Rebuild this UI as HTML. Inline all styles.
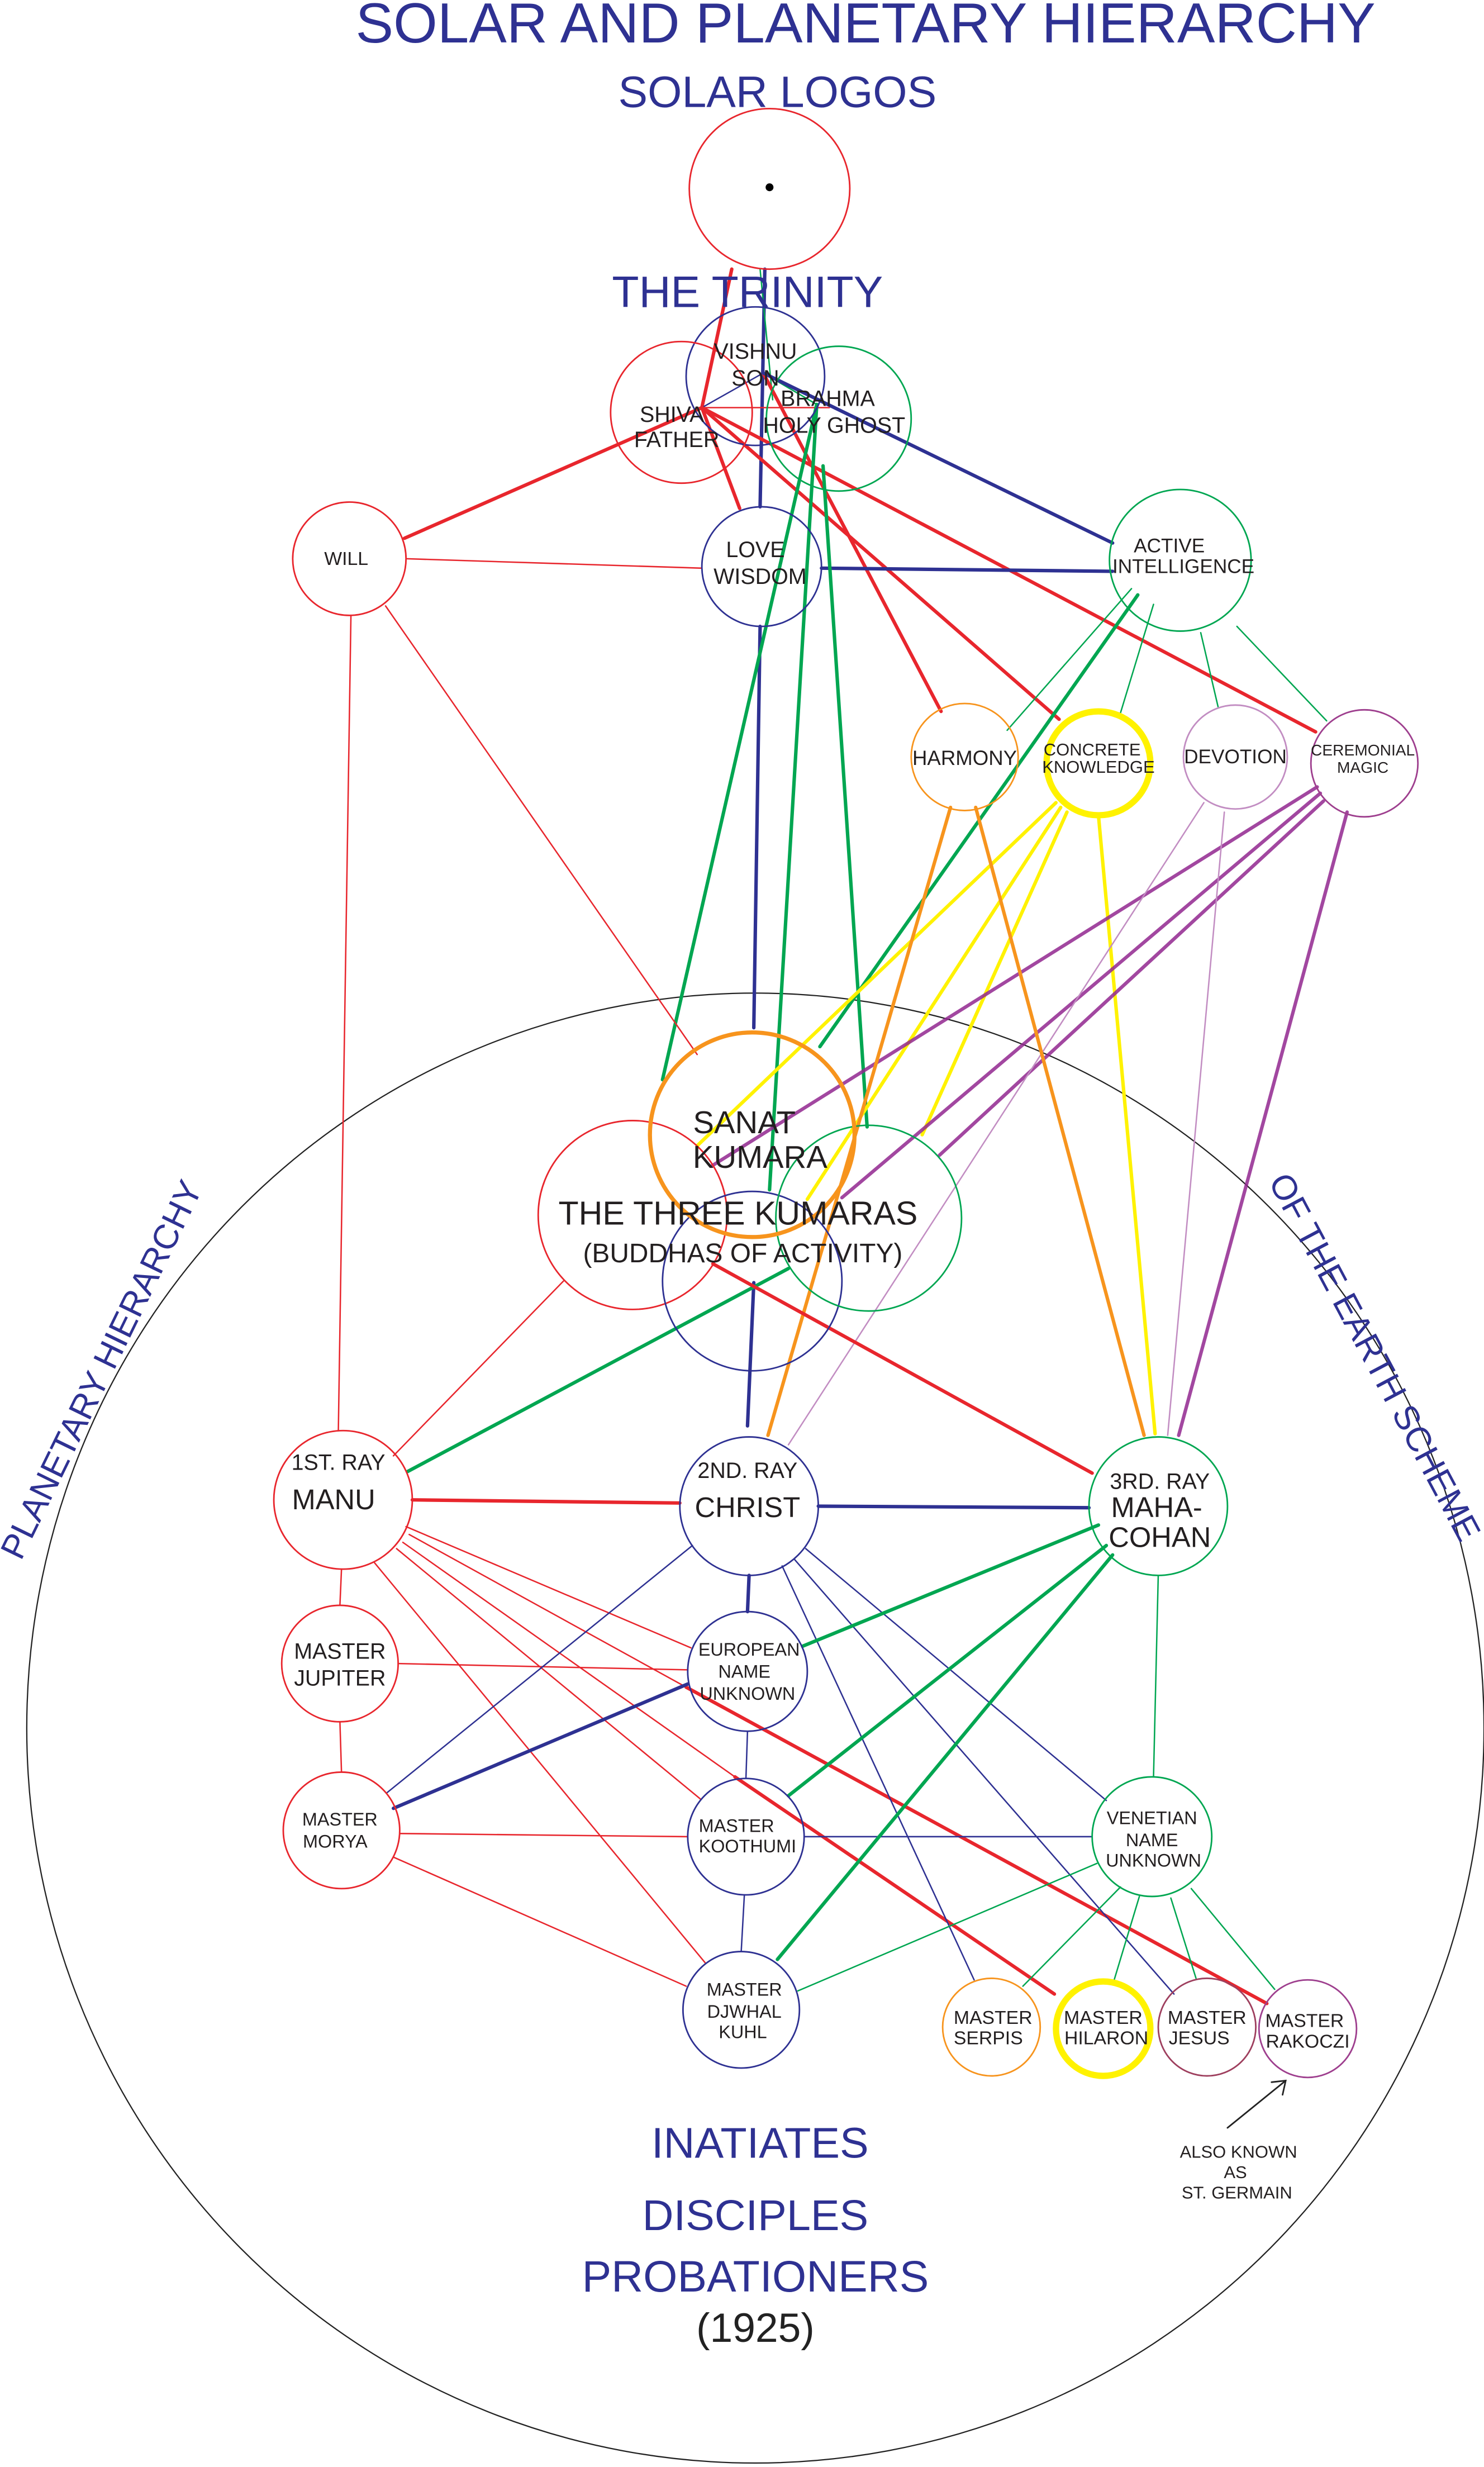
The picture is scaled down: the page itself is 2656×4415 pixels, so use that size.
<!DOCTYPE html>
<html><head><meta charset="utf-8"><style>
html,body{margin:0;padding:0;background:#fff;}
svg{display:block;}
text{font-family:"Liberation Sans",sans-serif;}
</style></head><body>
<svg width="2656" height="4415" viewBox="0 0 943 1567.5" xmlns="http://www.w3.org/2000/svg">
<rect width="943" height="1568" fill="#fff"/>
<!-- big circle -->
<ellipse cx="480" cy="1098" rx="463" ry="467" fill="none" stroke="#222" stroke-width="0.8"/>

<g fill="none" stroke-linecap="round">
<!-- top thin links -->
<line x1="465" y1="171" x2="446" y2="259" stroke="#e8262d" stroke-width="2.2"/>
<line x1="486" y1="171" x2="483" y2="322" stroke="#2e3192" stroke-width="2.2"/>
<line x1="483" y1="171" x2="491" y2="254" stroke="#00a651" stroke-width="0.9"/>
<line x1="446" y1="259" x2="485" y2="237" stroke="#2e3192" stroke-width="0.9"/>
<line x1="446" y1="259" x2="527" y2="259" stroke="#e8262d" stroke-width="0.9"/>
<line x1="485" y1="237" x2="519" y2="257" stroke="#00a651" stroke-width="0.9"/>
<!-- red from shiva -->
<line x1="446" y1="259" x2="257" y2="342" stroke="#e8262d" stroke-width="2.2"/>
<line x1="446" y1="259" x2="470" y2="323" stroke="#e8262d" stroke-width="2.2"/>
<line x1="485" y1="237" x2="598" y2="452" stroke="#e8262d" stroke-width="2.2"/>
<line x1="446" y1="259" x2="673" y2="457" stroke="#e8262d" stroke-width="2.2"/>
<line x1="446" y1="259" x2="836" y2="465" stroke="#e8262d" stroke-width="2.2"/>
<!-- blue -->
<line x1="485" y1="237" x2="707" y2="345" stroke="#2e3192" stroke-width="2.2"/>
<line x1="522" y1="361" x2="707" y2="363" stroke="#2e3192" stroke-width="2.2"/>
<line x1="483" y1="398" x2="479" y2="653" stroke="#2e3192" stroke-width="2.2"/>
<line x1="479" y1="815" x2="475" y2="906" stroke="#2e3192" stroke-width="2.2"/>
<!-- greens from brahma -->
<line x1="519" y1="257" x2="421" y2="686" stroke="#00a651" stroke-width="2.2"/>
<line x1="519" y1="257" x2="489" y2="756" stroke="#00a651" stroke-width="2.2"/>
<line x1="523" y1="296" x2="551" y2="716" stroke="#00a651" stroke-width="2.2"/>
<line x1="723" y1="378" x2="521" y2="665" stroke="#00a651" stroke-width="2.2"/>
<!-- thin greens from active -->
<line x1="719" y1="374" x2="640" y2="464" stroke="#00a651" stroke-width="0.9"/>
<line x1="733" y1="384" x2="712" y2="453" stroke="#00a651" stroke-width="0.9"/>
<line x1="763" y1="402" x2="774" y2="449" stroke="#00a651" stroke-width="0.9"/>
<line x1="786" y1="398" x2="843" y2="458" stroke="#00a651" stroke-width="0.9"/>
<!-- will -->
<line x1="258" y1="355" x2="446" y2="361" stroke="#e8262d" stroke-width="0.9"/>
<line x1="223" y1="391" x2="215" y2="909" stroke="#e8262d" stroke-width="0.9"/>
<line x1="245" y1="385" x2="443" y2="670" stroke="#e8262d" stroke-width="0.9"/>
<!-- yellow -->
<line x1="671" y1="510" x2="443" y2="728" stroke="#fff200" stroke-width="2.2"/>
<line x1="674" y1="513" x2="513" y2="762" stroke="#fff200" stroke-width="2.2"/>
<line x1="678" y1="516" x2="586" y2="721" stroke="#fff200" stroke-width="2.2"/>
<line x1="698" y1="518" x2="734" y2="911" stroke="#fff200" stroke-width="2.2"/>
<!-- purple -->
<line x1="837" y1="500" x2="452" y2="741" stroke="#92278f" stroke-width="2.2" stroke-opacity="0.85"/>
<line x1="839" y1="504" x2="535" y2="761" stroke="#92278f" stroke-width="2.2" stroke-opacity="0.85"/>
<line x1="841" y1="509" x2="597" y2="734" stroke="#92278f" stroke-width="2.2" stroke-opacity="0.85"/>
<line x1="856" y1="516" x2="749" y2="912" stroke="#92278f" stroke-width="2.2" stroke-opacity="0.85"/>
<!-- devotion pink -->
<line x1="765" y1="510" x2="501" y2="918" stroke="#c28dc2" stroke-width="0.9"/>
<line x1="778" y1="516" x2="742" y2="912" stroke="#c28dc2" stroke-width="0.9"/>
<!-- orange -->
<line x1="604" y1="513" x2="488" y2="912" stroke="#f7941d" stroke-width="2.2"/>
<line x1="620" y1="513" x2="727" y2="912" stroke="#f7941d" stroke-width="2.2"/>
<!-- kumaras links -->
<line x1="501" y1="806" x2="259" y2="935" stroke="#00a651" stroke-width="2.2"/>
<line x1="453" y1="803" x2="694" y2="936" stroke="#e8262d" stroke-width="2.2"/>
<line x1="358" y1="814" x2="250" y2="925" stroke="#e8262d" stroke-width="0.9"/>
<!-- rays -->
<line x1="262" y1="953" x2="432" y2="955" stroke="#e8262d" stroke-width="2.2"/>
<line x1="520" y1="957" x2="692" y2="958" stroke="#2e3192" stroke-width="2.2"/>
<line x1="476" y1="1001" x2="475" y2="1024" stroke="#2e3192" stroke-width="2.2"/>
<line x1="217" y1="997" x2="216" y2="1020" stroke="#e8262d" stroke-width="0.9"/>
<line x1="216" y1="1094" x2="217" y2="1126" stroke="#e8262d" stroke-width="0.9"/>
<!-- manu fan -->
<line x1="258" y1="970" x2="439" y2="1047" stroke="#e8262d" stroke-width="0.9"/>
<line x1="260" y1="975" x2="436" y2="1072" stroke="#e8262d" stroke-width="0.9"/>
<line x1="436" y1="1072" x2="805" y2="1273" stroke="#e8262d" stroke-width="2.2"/>
<line x1="256" y1="980" x2="467" y2="1129" stroke="#e8262d" stroke-width="0.9"/>
<line x1="467" y1="1129" x2="670" y2="1267" stroke="#e8262d" stroke-width="2.2"/>
<line x1="252" y1="984" x2="445" y2="1143" stroke="#e8262d" stroke-width="0.9"/>
<line x1="238" y1="993" x2="448" y2="1247" stroke="#e8262d" stroke-width="0.9"/>
<line x1="253" y1="1057" x2="437" y2="1061" stroke="#e8262d" stroke-width="0.9"/>
<line x1="254" y1="1165" x2="437" y2="1167" stroke="#e8262d" stroke-width="0.9"/>
<line x1="250" y1="1180" x2="436" y2="1262" stroke="#e8262d" stroke-width="0.9"/>
<!-- blue lower -->
<line x1="440" y1="982" x2="246" y2="1139" stroke="#2e3192" stroke-width="0.9"/>
<line x1="437" y1="1070" x2="250" y2="1149" stroke="#2e3192" stroke-width="2.2"/>
<line x1="475" y1="1100" x2="474" y2="1130" stroke="#2e3192" stroke-width="0.9"/>
<line x1="511" y1="1167" x2="694" y2="1167" stroke="#2e3192" stroke-width="0.9"/>
<line x1="473" y1="1204" x2="471" y2="1240" stroke="#2e3192" stroke-width="0.9"/>
<line x1="497" y1="995" x2="619" y2="1258" stroke="#2e3192" stroke-width="0.9"/>
<line x1="505" y1="991" x2="746" y2="1267" stroke="#2e3192" stroke-width="0.9"/>
<line x1="512" y1="984" x2="703" y2="1144" stroke="#2e3192" stroke-width="0.9"/>
<!-- green lower -->
<line x1="698" y1="969" x2="510" y2="1046" stroke="#00a651" stroke-width="2.2"/>
<line x1="703" y1="982" x2="501" y2="1141" stroke="#00a651" stroke-width="2.2"/>
<line x1="707" y1="988" x2="494" y2="1245" stroke="#00a651" stroke-width="2.2"/>
<line x1="736" y1="1001" x2="733" y2="1129" stroke="#00a651" stroke-width="0.9"/>
<line x1="697" y1="1184" x2="507" y2="1265" stroke="#00a651" stroke-width="0.9"/>
<line x1="712" y1="1199" x2="650" y2="1262" stroke="#00a651" stroke-width="0.9"/>
<line x1="724" y1="1205" x2="708" y2="1258" stroke="#00a651" stroke-width="0.9"/>
<line x1="744" y1="1206" x2="760" y2="1257" stroke="#00a651" stroke-width="0.9"/>
<line x1="757" y1="1200" x2="810" y2="1264" stroke="#00a651" stroke-width="0.9"/>
<!-- arrow -->
<line x1="780" y1="1352" x2="817" y2="1322" stroke="#222" stroke-width="1"/>
<polyline points="808,1323 817,1322 815,1331" stroke="#222" stroke-width="1"/>
</g>

<!-- circles -->
<g fill="none">
<circle cx="489" cy="120" r="51" stroke="#e8262d" stroke-width="1"/>
<circle cx="480" cy="239" r="44" stroke="#2e3192" stroke-width="1"/>
<circle cx="433" cy="262" r="45" stroke="#e8262d" stroke-width="1"/>
<circle cx="533" cy="266" r="46" stroke="#00a651" stroke-width="1"/>
<circle cx="222" cy="355" r="36" stroke="#e8262d" stroke-width="1"/>
<circle cx="484" cy="360" r="38" stroke="#2e3192" stroke-width="1"/>
<circle cx="750" cy="356" r="45" stroke="#00a651" stroke-width="1"/>
<circle cx="613" cy="481" r="34" stroke="#f7941d" stroke-width="1"/>
<circle cx="698" cy="485" r="33" stroke="#fff200" stroke-width="4"/>
<circle cx="785" cy="481" r="33" stroke="#c28dc2" stroke-width="1"/>
<circle cx="867" cy="485" r="34" stroke="#9e3f8e" stroke-width="1"/>
<circle cx="402" cy="772" r="60" stroke="#e8262d" stroke-width="1"/>
<circle cx="478" cy="814" r="57" stroke="#2e3192" stroke-width="1"/>
<circle cx="552" cy="774" r="59" stroke="#00a651" stroke-width="1"/>
<circle cx="478" cy="721" r="65" stroke="#f7941d" stroke-width="2.6"/>
<circle cx="218" cy="953" r="44" stroke="#e8262d" stroke-width="1"/>
<circle cx="476" cy="957" r="44" stroke="#2e3192" stroke-width="1"/>
<circle cx="736" cy="957" r="44" stroke="#00a651" stroke-width="1"/>
<circle cx="216" cy="1057" r="37" stroke="#e8262d" stroke-width="1"/>
<circle cx="475" cy="1062" r="38" stroke="#2e3192" stroke-width="1"/>
<circle cx="217" cy="1163" r="37" stroke="#e8262d" stroke-width="1"/>
<circle cx="474" cy="1167" r="37" stroke="#2e3192" stroke-width="1"/>
<circle cx="732" cy="1167" r="38" stroke="#00a651" stroke-width="1"/>
<circle cx="471" cy="1277" r="37" stroke="#2e3192" stroke-width="1"/>
<circle cx="630" cy="1288" r="31" stroke="#f7941d" stroke-width="1"/>
<circle cx="701" cy="1289" r="30" stroke="#fff200" stroke-width="4"/>
<circle cx="767" cy="1288" r="31" stroke="#9e3f5e" stroke-width="1"/>
<circle cx="831" cy="1289" r="31" stroke="#9e3f8e" stroke-width="1"/>
</g>
<circle cx="489" cy="119" r="2.5" fill="#000"/>

<!-- titles -->
<g fill="#2e3192" text-anchor="middle">
<text x="550" y="27" font-size="36">SOLAR AND PLANETARY HIERARCHY</text>
<text x="494" y="68" font-size="28">SOLAR LOGOS</text>
<text x="475" y="195" font-size="28">THE TRINITY</text>
<text x="483" y="1371" font-size="27.5">INATIATES</text>
<text x="480" y="1417" font-size="27.5">DISCIPLES</text>
<text x="480" y="1456" font-size="28">PROBATIONERS</text>
<text transform="translate(64,870) rotate(-64)" font-size="22" dy="8">PLANETARY HIERARCHY</text>
<text transform="translate(874,862) rotate(62)" font-size="22" dy="8">OF THE EARTH SCHEME</text>
</g>
<text x="480" y="1488" font-size="26" fill="#222" text-anchor="middle">(1925)</text>

<!-- labels -->
<g fill="#231f20" text-anchor="middle" font-size="14">
<text x="480" y="228">VISHNU</text>
<text x="480" y="245">SON</text>
<text x="427" y="268">SHIVA</text>
<text x="430" y="284">FATHER</text>
<text x="526" y="258">BRAHMA</text>
<text x="530" y="275">HOLY GHOST</text>
<text x="220" y="359" font-size="12">WILL</text>
<text x="480" y="354">LOVE</text>
<text x="483" y="371">WISDOM</text>
<text x="743" y="351" font-size="12.5">ACTIVE</text>
<text x="752" y="364" font-size="12.5">INTELLIGENCE</text>
<text x="613" y="486" font-size="13">HARMONY</text>
<text x="694" y="480" font-size="11">CONCRETE</text>
<text x="698" y="491" font-size="11">KNOWLEDGE</text>
<text x="785" y="485" font-size="12.5">DEVOTION</text>
<text x="866" y="480" font-size="10">CEREMONIAL</text>
<text x="866" y="491" font-size="10">MAGIC</text>
<text x="473" y="720" font-size="20">SANAT</text>
<text x="483" y="742" font-size="20">KUMARA</text>
<text x="469" y="778" font-size="21">THE THREE KUMARAS</text>
<text x="472" y="802" font-size="17">(BUDDHAS OF ACTIVITY)</text>
<text x="215" y="934">1ST. RAY</text>
<text x="212" y="959" font-size="18">MANU</text>
<text x="475" y="939">2ND. RAY</text>
<text x="475" y="964" font-size="18">CHRIST</text>
<text x="737" y="946">3RD. RAY</text>
<text x="735" y="964" font-size="18">MAHA-</text>
<text x="737" y="983" font-size="18">COHAN</text>
<text x="216" y="1054">MASTER</text>
<text x="216" y="1071">JUPITER</text>
<text x="476" y="1052" font-size="11.5">EUROPEAN</text>
<text x="473" y="1066" font-size="11.5">NAME</text>
<text x="475" y="1080" font-size="11.5">UNKNOWN</text>
<text x="216" y="1160" font-size="11.5">MASTER</text>
<text x="213" y="1174" font-size="11.5">MORYA</text>
<text x="468" y="1164" font-size="11.5">MASTER</text>
<text x="475" y="1177" font-size="11.5">KOOTHUMI</text>
<text x="732" y="1159" font-size="11.5">VENETIAN</text>
<text x="732" y="1173" font-size="11.5">NAME</text>
<text x="733" y="1186" font-size="11.5">UNKNOWN</text>
<text x="473" y="1268" font-size="11.5">MASTER</text>
<text x="473" y="1282" font-size="11.5">DJWHAL</text>
<text x="472" y="1295" font-size="11.5">KUHL</text>
<text x="631" y="1286" font-size="12">MASTER</text>
<text x="628" y="1299" font-size="12">SERPIS</text>
<text x="701" y="1286" font-size="12">MASTER</text>
<text x="703" y="1299" font-size="12">HILARON</text>
<text x="767" y="1286" font-size="12">MASTER</text>
<text x="762" y="1299" font-size="12">JESUS</text>
<text x="829" y="1288" font-size="12">MASTER</text>
<text x="831" y="1301" font-size="12">RAKOCZI</text>
<text x="787" y="1371" font-size="11">ALSO KNOWN</text>
<text x="785" y="1384" font-size="11">AS</text>
<text x="786" y="1397" font-size="11">ST. GERMAIN</text>
</g>
</svg>
</body></html>
